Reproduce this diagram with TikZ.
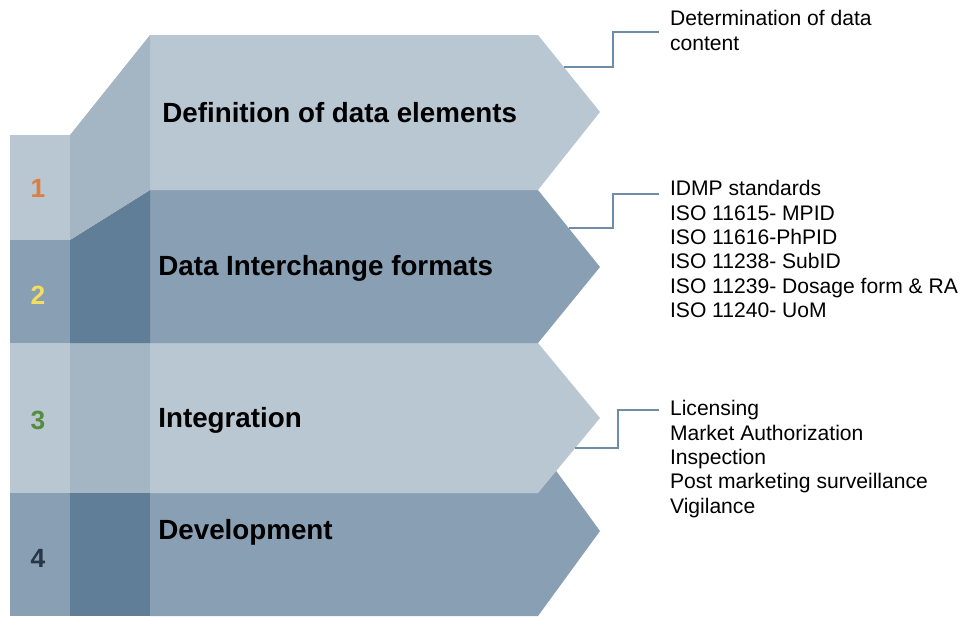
\documentclass[tikz,border=0pt]{standalone}
\usepackage{fontspec}
\setmainfont{Liberation Sans}
\definecolor{bandlight}{RGB}{185,199,211}
\definecolor{bandmid}{RGB}{137,159,179}
\definecolor{sidelight}{RGB}{164,181,196}
\definecolor{sidedark}{RGB}{96,126,151}
\definecolor{linkblue}{RGB}{110,140,168}
\definecolor{numorange}{RGB}{222,125,60}
\definecolor{numyellow}{RGB}{244,222,90}
\definecolor{numgreen}{RGB}{86,140,62}
\definecolor{numdark}{RGB}{40,54,74}

\begin{document}
\begin{tikzpicture}[x=0.02cm, y=-0.02cm,
  slabel/.style={anchor=west, inner sep=0pt, font=\fontsize{15.8}{18}\selectfont\bfseries},
  num/.style={inner sep=0pt, font=\fontsize{15}{18}\selectfont\bfseries},
  note/.style={anchor=north west, align=left, inner xsep=6.1pt, inner ysep=0pt,
               font=\fontsize{12}{13.9}\selectfont},
  link/.style={draw=linkblue, line width=0.6pt}
]
\useasboundingbox (0,0) rectangle (960,616);

% Band 4 (bottom, behind band 3)
\fill[bandmid]   (150,446) -- (538,446) -- (600,531) -- (538,616) -- (150,616) -- cycle;
\fill[bandmid]   (10,493) rectangle (70,616);
\fill[sidedark]  (70,493) rectangle (150,616);

% Band 3
\fill[bandlight] (150,343) -- (538,343) -- (600,418) -- (538,493) -- (150,493) -- cycle;
\fill[bandlight] (10,343) rectangle (70,493);
\fill[sidelight] (70,343) rectangle (150,493);

% Band 2
\fill[bandmid]   (150,190) -- (538,190) -- (600,267) -- (538,343) -- (150,343) -- cycle;
\fill[bandmid]   (10,240) rectangle (70,343);
\fill[sidedark]  (70,240) -- (150,190) -- (150,343) -- (70,343) -- cycle;

% Band 1 (top)
\fill[bandlight] (150,35) -- (538,35) -- (600,112) -- (538,190) -- (150,190) -- cycle;
\fill[bandlight] (10,135) rectangle (70,240);
\fill[sidelight] (70,135) -- (150,35) -- (150,190) -- (70,240) -- cycle;

% Step numbers
\node[num, text=numorange] (k1) at (38,188) {1};
\node[num, text=numyellow] (k2) at (38,295) {2};
\node[num, text=numgreen]  (k3) at (38,420) {3};
\node[num, text=numdark]   (k4) at (38,558) {4};

% Step labels
\node[slabel] (def)  at (162,113) {Definition of data elements};
\node[slabel] (fmt)  at (158,268) {Data Interchange formats};
\node[slabel] (intg) at (158,420) {Integration};
\node[slabel] (dev)  at (158,532) {Development};

% Notes
\node[note] (n1) at (659,10)  {Determination of data\\content};
\node[note] (n2) at (659,180) {IDMP standards\\ISO 11615- MPID\\ISO 11616-PhPID\\ISO 11238- SubID\\ISO 11239- Dosage form \& RA\\ISO 11240- UoM};
\node[note] (n3) at (659,400) {Licensing\\Market Authorization\\Inspection\\Post marketing surveillance\\Vigilance};

% Connectors
\coordinate (e1) at (564,67);
\coordinate (e2) at (569,228);
\coordinate (e3) at (575,448);
\draw[link] (e1) -- ++(49,0) |- ([yshift=-0.44cm]n1.north west);
\draw[link] (e2) -- ++(44,0) |- ([yshift=-0.28cm]n2.north west);
\draw[link] (e3) -- ++(43,0) |- ([yshift=-0.2cm]n3.north west);
\end{tikzpicture}
\end{document}
